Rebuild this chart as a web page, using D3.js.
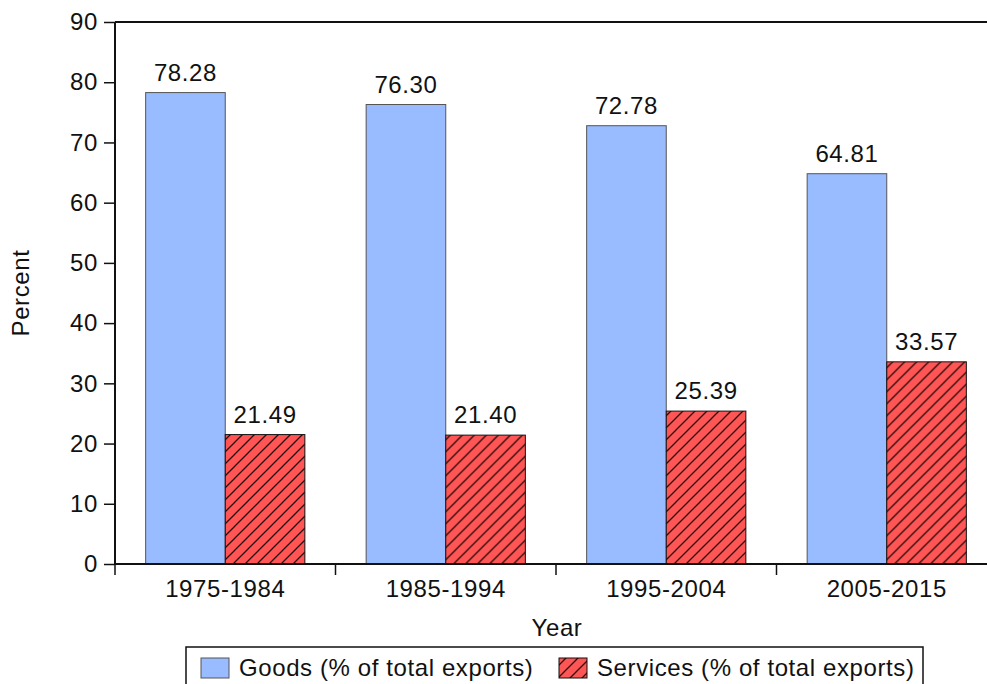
<!DOCTYPE html>
<html>
<head>
<meta charset="utf-8">
<script src="https://cdn.jsdelivr.net/npm/d3@7"></script>
<style>
  body{margin:0;background:#fff;}
  svg{display:block;font-family:"Liberation Sans",Arial,sans-serif;letter-spacing:0.6px;}
  .axis text{font-size:24px;fill:#111;}
  .axis path,.axis line{stroke:#111;}
</style>
</head>
<body>
<div id="chart"></div>
<script>
/* Goods vs services share of total exports, by decade */
var periods=["1975-1984","1985-1994","1995-2004","2005-2015"];
var goods=[78.28,76.30,72.78,64.81];
var services=[21.49,21.40,25.39,33.57];
var seriesNames=["Goods (% of total exports)","Services (% of total exports)"];
var yTicks=[0,10,20,30,40,50,60,70,80,90];

var W=987,H=684;
var m={top:22,left:115,bottom:120,right:-10};
var width=W-m.left-m.right, height=H-m.top-m.bottom;

var svg=d3.select("#chart").append("svg").attr("width",W).attr("height",H);
var defs=svg.append("defs");
var pat=defs.append("pattern").attr("id","hatch").attr("patternUnits","userSpaceOnUse")
    .attr("width",12).attr("height",12);
pat.append("rect").attr("width",12).attr("height",12).attr("fill","#ff5555");
pat.append("path").attr("d","M-3,3 L3,-3 M0,12 L12,0 M9,15 L15,9")
    .attr("stroke","#2a0a0a").attr("stroke-width",1.3);

var g=svg.append("g").attr("transform","translate("+m.left+","+m.top+")");

var x0=d3.scaleBand().domain(periods).range([0,width]).padding(0);
var x1=d3.scaleBand().domain([0,1]).range([x0.bandwidth()*0.139,x0.bandwidth()*0.861]).padding(0);
var y=d3.scaleLinear().domain([0,90]).range([height,0]);

var rows=periods.map(function(p,i){return {period:p,vals:[goods[i],services[i]]};});

var grp=g.selectAll("g.grp").data(rows).enter().append("g").attr("class","grp")
    .attr("transform",function(d){return "translate("+x0(d.period)+",0)";});

grp.selectAll("rect").data(function(d){return d.vals.map(function(v,k){return {k:k,v:v};});})
    .enter().append("rect")
    .attr("x",function(d){return x1(d.k);}).attr("width",x1.bandwidth())
    .attr("y",function(d){return y(d.v);}).attr("height",function(d){return height-y(d.v);})
    .attr("fill",function(d){return d.k===0?"#99bbff":"url(#hatch)";})
    .attr("stroke",function(d){return d.k===0?"#555":"#111";}).attr("stroke-width",1);

grp.selectAll("text").data(function(d){return d.vals.map(function(v,k){return {k:k,v:v};});})
    .enter().append("text")
    .attr("x",function(d){return x1(d.k)+x1.bandwidth()/2;}).attr("y",function(d){return y(d.v)-12;})
    .attr("text-anchor","middle").style("font-size","24px").attr("fill","#111")
    .text(function(d){return d3.format(".2f")(d.v);});

/* axes */
var ya=g.append("g").attr("class","axis").call(d3.axisLeft(y).tickValues(yTicks).tickSize(11).tickPadding(6));
ya.select(".domain").attr("stroke-width",2).attr("d","M0,"+height+"V0");
ya.selectAll(".tick line").attr("stroke-width",1.5);

var xa=g.append("g").attr("class","axis").attr("transform","translate(0,"+height+")")
    .call(d3.axisBottom(x0).tickSize(0).tickPadding(16));
xa.select(".domain").attr("stroke-width",2).attr("d","M0,0H"+width);
xa.selectAll(".tick text").attr("dy","0.71em");
/* boundary ticks between periods */
g.selectAll("line.sep").data(periods).enter().append("line").attr("class","sep")
    .attr("x1",function(d){return x0(d);}).attr("x2",function(d){return x0(d);})
    .attr("y1",height).attr("y2",height+11).attr("stroke","#111").attr("stroke-width",1.5);

/* top frame line */
g.append("line").attr("x1",0).attr("x2",width).attr("y1",0).attr("y2",0)
    .attr("stroke","#111").attr("stroke-width",2);

/* titles */
svg.append("text").attr("x",557).attr("y",636).attr("text-anchor","middle")
    .style("font-size","24px").attr("fill","#111").text("Year");
svg.append("text").attr("transform","translate(29,"+(m.top+height/2)+") rotate(-90)")
    .attr("text-anchor","middle").style("font-size","24px").attr("fill","#111").text("Percent");

/* legend */
var lg=svg.append("g");
lg.append("rect").attr("x",186).attr("y",647).attr("width",737).attr("height",50)
    .attr("fill","#fff").attr("stroke","#111").attr("stroke-width",1.5);
var legX=[201,559];
seriesNames.forEach(function(s,i){
    lg.append("rect").attr("x",legX[i]).attr("y",658).attr("width",28).attr("height",20)
        .attr("fill",i===0?"#99bbff":"url(#hatch)").attr("stroke",i===0?"#555":"#111");
    lg.append("text").attr("x",legX[i]+38).attr("y",676).style("font-size","24px")
        .attr("fill","#111").text(s);
});
</script>
</body>
</html>
